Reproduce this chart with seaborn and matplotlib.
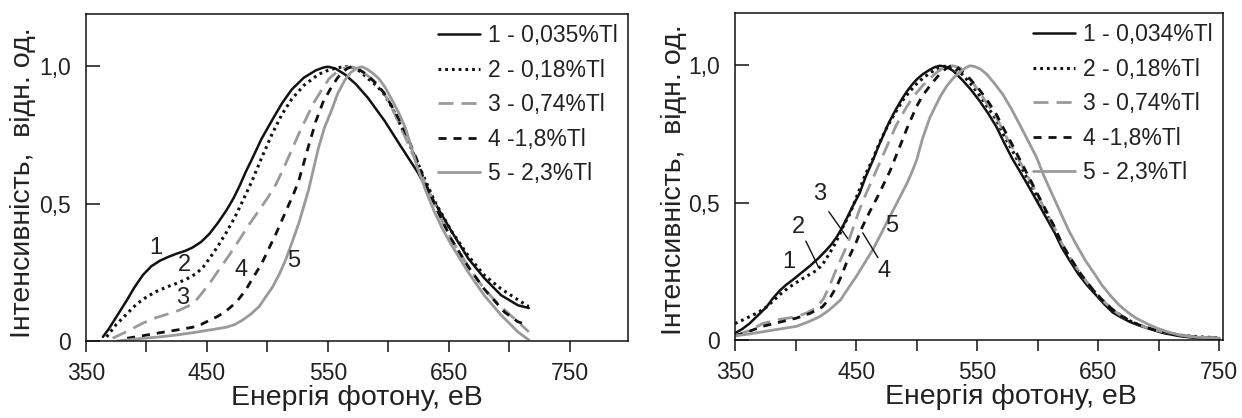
import matplotlib
matplotlib.use("Agg")
import matplotlib.pyplot as plt
import seaborn as sns
import pandas as pd

sns.set_theme(style="white")
plt.rcParams['font.family'] = ['Liberation Sans', 'DejaVu Sans']

# ---------------- data: left panel ----------------
L_labels = ["1 - 0,035%Tl", "2 - 0,18%Tl", "3 - 0,74%Tl", "4 -1,8%Tl", "5 - 2,3%Tl"]
L1_x = [364, 369, 374, 379, 384, 390, 397, 404, 411, 418, 425, 432, 438, 445, 452, 459, 466, 472, 477, 482, 487, 495, 504, 512, 520, 530, 540, 546, 550, 556, 564, 573, 583, 597, 610, 624, 638, 652, 666, 679, 693, 707, 716]
L1_y = [0.015, 0.045, 0.08, 0.115, 0.15, 0.195, 0.24, 0.272, 0.292, 0.306, 0.318, 0.328, 0.34, 0.36, 0.39, 0.43, 0.475, 0.52, 0.565, 0.615, 0.66, 0.735, 0.805, 0.865, 0.915, 0.958, 0.985, 0.995, 0.998, 0.992, 0.97, 0.935, 0.885, 0.80, 0.71, 0.615, 0.505, 0.40, 0.30, 0.23, 0.167, 0.13, 0.12]
L2_x = [367, 375, 384, 392, 400, 408, 417, 425, 433, 441, 447, 452, 459, 466, 473, 479, 487, 495, 504, 512, 520, 530, 542, 550, 558, 565, 571, 577, 583, 590, 597, 603, 610, 617, 624, 631, 638, 645, 652, 666, 679, 693, 707, 716]
L2_y = [0.015, 0.06, 0.10, 0.135, 0.16, 0.18, 0.197, 0.21, 0.225, 0.245, 0.27, 0.3, 0.345, 0.395, 0.45, 0.505, 0.58, 0.665, 0.755, 0.825, 0.88, 0.93, 0.97, 0.985, 0.995, 0.998, 0.995, 0.98, 0.955, 0.93, 0.895, 0.85, 0.785, 0.72, 0.65, 0.58, 0.51, 0.455, 0.40, 0.31, 0.24, 0.19, 0.15, 0.125]
L3_x = [372, 384, 397, 408, 419, 427, 435, 441, 446, 453, 460, 468, 477, 485, 493, 500, 507, 514, 520, 526, 532, 538, 545, 551, 557, 563, 569, 575, 580, 586, 592, 600, 608, 616, 624, 631, 638, 645, 652, 666, 679, 693, 707, 716]
L3_y = [0.01, 0.035, 0.065, 0.085, 0.10, 0.112, 0.128, 0.148, 0.175, 0.215, 0.26, 0.31, 0.37, 0.425, 0.475, 0.52, 0.57, 0.635, 0.695, 0.755, 0.81, 0.865, 0.915, 0.955, 0.978, 0.993, 0.998, 0.99, 0.975, 0.955, 0.93, 0.875, 0.80, 0.72, 0.64, 0.565, 0.50, 0.43, 0.37, 0.27, 0.19, 0.125, 0.07, 0.033]
L4_x = [384, 398, 411, 425, 438, 445, 452, 459, 466, 474, 482, 488, 495, 501, 507, 513, 518, 522, 526, 533, 540, 546, 553, 558, 562, 566, 570, 575, 582, 589, 596, 602, 609, 616, 623, 630, 641, 652, 666, 679, 696, 707, 715]
L4_y = [0.01, 0.02, 0.03, 0.04, 0.05, 0.06, 0.075, 0.09, 0.11, 0.14, 0.185, 0.23, 0.28, 0.335, 0.39, 0.45, 0.50, 0.54, 0.585, 0.695, 0.80, 0.87, 0.925, 0.958, 0.978, 0.992, 0.998, 0.99, 0.97, 0.94, 0.905, 0.86, 0.805, 0.74, 0.665, 0.58, 0.47, 0.37, 0.27, 0.19, 0.105, 0.07, 0.058]
L5_x = [376, 393, 411, 425, 438, 452, 466, 473, 479, 486, 493, 498, 504, 510, 515, 520, 526, 530, 534, 538, 542, 547, 553, 558, 564, 569, 574, 578, 582, 587, 592, 597, 602, 608, 614, 619, 624, 631, 638, 645, 652, 666, 679, 693, 707, 716]
L5_y = [0.0, 0.008, 0.015, 0.022, 0.03, 0.04, 0.05, 0.06, 0.075, 0.097, 0.125, 0.157, 0.195, 0.245, 0.295, 0.355, 0.43, 0.49, 0.55, 0.625, 0.70, 0.775, 0.84, 0.90, 0.95, 0.978, 0.993, 0.998, 0.99, 0.975, 0.955, 0.925, 0.885, 0.835, 0.775, 0.705, 0.63, 0.545, 0.47, 0.405, 0.35, 0.25, 0.167, 0.095, 0.033, 0.004]

# ---------------- data: right panel ----------------
R_labels = ["1 - 0,034%Tl", "2 - 0,18%Tl", "3 - 0,74%Tl", "4 -1,8%Tl", "5 - 2,3%Tl"]
R1_x = [350, 356, 362, 369, 376, 381, 387, 392, 398, 405, 412, 419, 426, 430, 434, 438, 442, 447, 453, 458, 464, 468, 472, 477, 483, 488, 492, 496, 500, 505, 511, 515, 519, 524, 530, 538, 545, 552, 559, 566, 572, 579, 586, 593, 600, 607, 614, 620, 627, 634, 641, 648, 655, 662, 669, 676, 683, 690, 703, 717, 731, 750]
R1_y = [0.025, 0.04, 0.06, 0.09, 0.12, 0.15, 0.18, 0.2, 0.22, 0.245, 0.27, 0.298, 0.33, 0.35, 0.375, 0.405, 0.44, 0.485, 0.535, 0.595, 0.655, 0.70, 0.74, 0.79, 0.84, 0.878, 0.905, 0.928, 0.948, 0.967, 0.984, 0.993, 0.998, 0.995, 0.98, 0.945, 0.91, 0.87, 0.825, 0.775, 0.72, 0.66, 0.608, 0.555, 0.50, 0.445, 0.39, 0.335, 0.285, 0.237, 0.198, 0.164, 0.13, 0.10, 0.082, 0.066, 0.054, 0.044, 0.026, 0.014, 0.007, 0.004]
R2_x = [350, 356, 362, 369, 376, 381, 387, 394, 401, 409, 418, 423, 428, 432, 436, 440, 445, 449, 453, 458, 464, 469, 475, 482, 489, 495, 500, 505, 511, 518, 525, 531, 538, 545, 552, 559, 566, 572, 579, 586, 593, 600, 607, 614, 620, 627, 634, 641, 648, 655, 662, 669, 676, 683, 690, 703, 717, 731, 750]
R2_y = [0.06, 0.072, 0.085, 0.10, 0.12, 0.14, 0.165, 0.19, 0.21, 0.232, 0.255, 0.28, 0.315, 0.345, 0.38, 0.42, 0.46, 0.505, 0.55, 0.605, 0.66, 0.715, 0.77, 0.825, 0.875, 0.908, 0.932, 0.952, 0.972, 0.99, 0.998, 0.99, 0.965, 0.93, 0.89, 0.845, 0.80, 0.745, 0.69, 0.632, 0.575, 0.518, 0.46, 0.402, 0.345, 0.293, 0.245, 0.205, 0.17, 0.138, 0.11, 0.088, 0.07, 0.056, 0.045, 0.03, 0.018, 0.012, 0.008]
R3_x = [350, 362, 373, 387, 401, 410, 418, 423, 428, 432, 437, 441, 445, 450, 455, 461, 467, 471, 475, 479, 483, 488, 492, 496, 500, 505, 511, 516, 520, 525, 530, 536, 541, 546, 552, 559, 566, 572, 579, 586, 593, 600, 607, 614, 620, 627, 634, 641, 648, 655, 662, 669, 676, 683, 690, 703, 717, 731, 750]
R3_y = [0.015, 0.035, 0.06, 0.075, 0.085, 0.1, 0.12, 0.15, 0.195, 0.24, 0.29, 0.33, 0.375, 0.44, 0.50, 0.56, 0.62, 0.66, 0.70, 0.74, 0.78, 0.82, 0.85, 0.877, 0.90, 0.926, 0.952, 0.972, 0.985, 0.995, 0.998, 0.99, 0.97, 0.94, 0.90, 0.855, 0.81, 0.755, 0.70, 0.643, 0.585, 0.525, 0.465, 0.406, 0.35, 0.298, 0.25, 0.208, 0.17, 0.138, 0.11, 0.088, 0.07, 0.056, 0.045, 0.03, 0.018, 0.011, 0.007]
R4_x = [350, 362, 373, 387, 401, 412, 422, 428, 434, 438, 442, 446, 450, 455, 461, 467, 472, 478, 483, 488, 492, 496, 500, 505, 511, 516, 520, 524, 528, 533, 538, 545, 552, 559, 566, 572, 579, 586, 593, 600, 607, 614, 620, 627, 634, 641, 648, 655, 662, 669, 676, 683, 690, 703, 717, 731, 750]
R4_y = [0.015, 0.032, 0.05, 0.065, 0.08, 0.097, 0.12, 0.15, 0.195, 0.235, 0.28, 0.318, 0.355, 0.41, 0.465, 0.515, 0.56, 0.615, 0.67, 0.725, 0.77, 0.81, 0.85, 0.89, 0.925, 0.952, 0.972, 0.987, 0.997, 0.995, 0.975, 0.945, 0.91, 0.868, 0.82, 0.768, 0.71, 0.65, 0.59, 0.53, 0.47, 0.41, 0.35, 0.298, 0.25, 0.208, 0.17, 0.138, 0.11, 0.088, 0.07, 0.056, 0.045, 0.03, 0.017, 0.01, 0.006]
R5_x = [350, 362, 373, 387, 401, 410, 420, 428, 437, 443, 450, 457, 464, 471, 478, 485, 492, 496, 500, 505, 511, 516, 520, 525, 530, 534, 537, 541, 544, 548, 553, 558, 564, 571, 578, 585, 592, 599, 605, 612, 619, 626, 633, 640, 647, 653, 660, 667, 674, 681, 690, 698, 707, 717, 731, 750]
R5_y = [0.015, 0.022, 0.03, 0.04, 0.05, 0.065, 0.085, 0.11, 0.145, 0.185, 0.23, 0.28, 0.33, 0.39, 0.45, 0.51, 0.57, 0.61, 0.655, 0.735, 0.81, 0.855, 0.89, 0.925, 0.952, 0.968, 0.98, 0.992, 0.998, 0.995, 0.985, 0.967, 0.935, 0.895, 0.843, 0.785, 0.725, 0.665, 0.598, 0.53, 0.462, 0.395, 0.338, 0.285, 0.24, 0.20, 0.162, 0.128, 0.102, 0.08, 0.06, 0.044, 0.03, 0.018, 0.01, 0.007]

# curve number annotations (text, x, y)
L_notes = [("1", 408, 0.34), ("2", 431, 0.275), ("3", 430, 0.155), ("4", 478, 0.26), ("5", 522, 0.29)]
R_notes = [("1", 394.5, 0.285), ("2", 402, 0.41), ("3", 420, 0.53), ("5", 479, 0.415), ("4", 473, 0.25)]
# leader lines in right panel (x0, y0, x1, y1)
R_leaders = [(408.5, 0.36, 419, 0.265), (427.5, 0.467, 443, 0.37), (455.5, 0.39, 468, 0.30)]

x_ticks = [350, 450, 550, 650, 750]
x_minor = [400, 500, 600, 700]
y_ticks = [0, 0.5, 1.0]
y_ticklabels = ["0", "0,5", "1,0"]
x_title = "Енергія фотону, еВ"
y_title = "Інтенсивність,  відн. од."

BLACK = "#111111"
GRAY = "#9a9a9a"
styles = [
    dict(color=BLACK, linestyle="-", linewidth=1.8),
    dict(color=BLACK, linestyle=(0, (0.9, 1.3)), linewidth=2.2),
    dict(color=GRAY, linestyle=(0, (5.4, 2.9)), linewidth=2.0),
    dict(color=BLACK, linestyle=(0, (2.9, 2.5)), linewidth=2.0),
    dict(color=GRAY, linestyle="-", linewidth=2.0),
]
TXT = "#222222"

fig = plt.figure(figsize=(12.42, 4.18), dpi=100)
W, H = 1242, 418
axL = fig.add_axes([86 / W, 1 - 341 / H, (628 - 86) / W, (341 - 14) / H])
axR = fig.add_axes([735 / W, 1 - 340 / H, (1223 - 735) / W, (340 - 13) / H])


def draw(ax, xs, ys, labels):
    for x, y, lab, st in zip(xs, ys, labels, styles):
        df = pd.DataFrame({"x": x, "y": y})
        sns.lineplot(data=df, x="x", y="y", ax=ax, label=lab, estimator=None, sort=False, **st)


draw(axL, [L1_x, L2_x, L3_x, L4_x, L5_x], [L1_y, L2_y, L3_y, L4_y, L5_y], L_labels)
draw(axR, [R1_x, R2_x, R3_x, R4_x, R5_x], [R1_y, R2_y, R3_y, R4_y, R5_y], R_labels)

for ax, xmax in [(axL, 798), (axR, 753)]:
    ax.set_xlim(350, xmax)
    ax.set_ylim(0, 1.19)
    ax.set_xticks(x_ticks)
    ax.set_xticks(x_minor, minor=True)
    ax.set_yticks(y_ticks)
    ax.set_yticklabels(y_ticklabels)
    ax.tick_params(axis="x", which="both", direction="out", length=8, width=1.1, color=BLACK,
                   labelsize=16.5, labelcolor=TXT, pad=7, bottom=True)
    ax.tick_params(axis="y", which="both", direction="in", length=10, width=1.1, color=BLACK,
                   labelsize=16.5, labelcolor=TXT, pad=11, left=True)
    for sp in ax.spines.values():
        sp.set_color(BLACK)
        sp.set_linewidth(1.1)
        sp.set_visible(True)
    ax.set_xlabel(x_title, fontsize=20.5, color=TXT)
    ax.set_ylabel(y_title, fontsize=20.5, color=TXT)
    ax.set_facecolor("white")
    leg = ax.legend(loc="upper right", bbox_to_anchor=(1.0, 1.0), frameon=False, fontsize=16.5,
                    handlelength=1.85, handletextpad=0.35, labelspacing=0.5,
                    borderaxespad=0.0, borderpad=0.45)
    for t in leg.get_texts():
        t.set_color(TXT)

axL.xaxis.set_label_coords(0.5, -0.135)
axR.xaxis.set_label_coords(0.565, -0.135)
axL.yaxis.set_label_coords(-0.092, 0.483)
axR.yaxis.set_label_coords(-0.098, 0.49)

for t, x, y in L_notes:
    axL.text(x, y, t, fontsize=17, color=TXT, ha="center", va="center")
for t, x, y in R_notes:
    axR.text(x, y, t, fontsize=17, color=TXT, ha="center", va="center")
for x0, y0, x1, y1 in R_leaders:
    axR.annotate("", xy=(x1, y1), xytext=(x0, y0),
                 arrowprops=dict(arrowstyle="-", color=BLACK, lw=1.0, shrinkA=0, shrinkB=0))

fig.savefig("out.png", dpi=100, facecolor="white")
